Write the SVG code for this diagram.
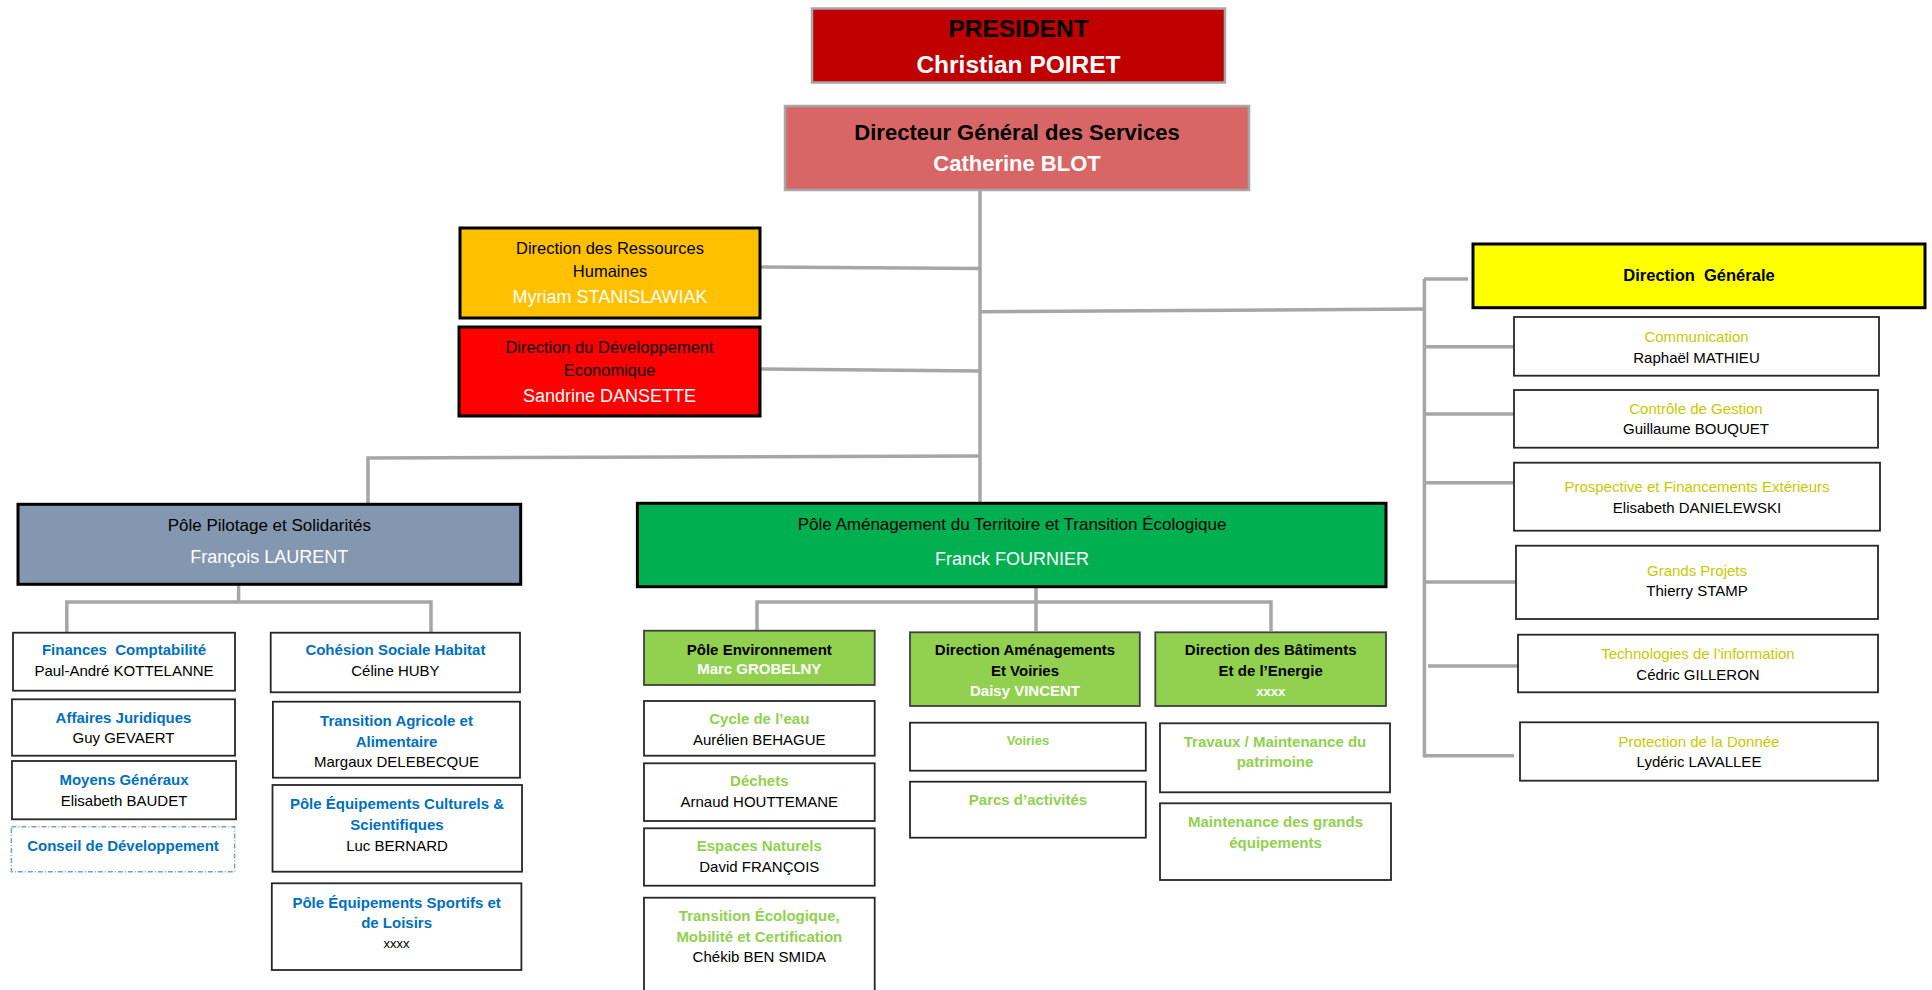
<svg xmlns="http://www.w3.org/2000/svg" width="1932" height="990" viewBox="0 0 1932 990">
<style>
text{font-family:"Liberation Sans",Arial,sans-serif;text-anchor:middle;font-size:15px;fill:#000;white-space:pre}
.b{font-weight:bold}
.w{fill:#fff}
.blue{fill:#0070C0;font-weight:bold}
.gr{fill:#92D050;font-weight:bold}
.yl{fill:#C9C900}
.top{stroke:#A6A6A6;stroke-width:2.5}
.main{stroke:#000;stroke-width:3}
.sub{fill:#fff;stroke:#262626;stroke-width:1.8}
.gsub{fill:#92D050;stroke:#404040;stroke-width:1.8}
.dash{fill:#fff;stroke:#7F9CC4;stroke-width:1.5;stroke-dasharray:5 2 1 2}
#connectors path{fill:none;stroke:#A6A6A6;stroke-width:3.5}
</style>
<rect width="1932" height="990" fill="#fff"/>
<g id="connectors">
<path d="M980 190 V503"/>
<path d="M760 267 L980 268.5"/>
<path d="M760 369 L980 371"/>
<path d="M980 311.7 L1424 309"/>
<path d="M1424.4 279 V757.5"/>
<path d="M1424 279 H1468"/>
<path d="M1424 346.7 H1514"/>
<path d="M1424 414 H1514"/>
<path d="M1424 482.7 H1514"/>
<path d="M1424 582 H1516"/>
<path d="M1428 666 H1518"/>
<path d="M1424 755.7 H1514"/>
<path d="M368 503 V458 L980 456"/>
<path d="M238.6 584 V602"/>
<path d="M66.8 632.7 V602 H431 V632.7"/>
<path d="M1036 587 V602"/>
<path d="M757 631 V602 H1271 V631"/>
<path d="M1036 602 V631"/>
</g>
<g id="president">
<rect x="812" y="8.5" width="413" height="74" fill="#C00000" class="top"/>
<text x="1018.5" y="37" class="b" style="font-size:24.5px">PRESIDENT</text>
<text x="1018.5" y="72.5" class="b w" style="font-size:24.5px">Christian POIRET</text>
</g>
<g id="dgs">
<rect x="785" y="106" width="464" height="84" fill="#D96666" class="top"/>
<text x="1017" y="140" class="b" style="font-size:22px">Directeur Général des Services</text>
<text x="1017" y="170.5" class="b w" style="font-size:22px">Catherine BLOT</text>
</g>
<g id="drh">
<rect x="460" y="228" width="300" height="90" fill="#FFC000" class="main"/>
<text x="610" y="254" style="font-size:16.5px">Direction des Ressources</text>
<text x="610" y="277" style="font-size:16.5px">Humaines</text>
<text x="610" y="303" class="w" style="font-size:18px">Myriam STANISLAWIAK</text>
</g>
<g id="dde">
<rect x="459" y="327" width="301" height="89" fill="#FF0000" class="main"/>
<text x="609.5" y="353" style="font-size:16.5px">Direction du Développement</text>
<text x="609.5" y="375.7" style="font-size:16.5px">Economique</text>
<text x="609.5" y="401.7" class="w" style="font-size:18px">Sandrine DANSETTE</text>
</g>
<g id="dg">
<rect x="1473" y="244" width="452" height="63.7" fill="#FFFF00" class="main"/>
<text x="1699" y="281" class="b" style="font-size:16.5px">Direction  Générale</text>
</g>
<g id="communication">
<rect x="1514" y="317" width="365" height="58.7" class="sub"/>
<text x="1696.5" y="341.7" class="yl">Communication</text>
<text x="1696.5" y="362.7">Raphaël MATHIEU</text>
</g>
<g id="controle">
<rect x="1514" y="390" width="364" height="57.7" class="sub"/>
<text x="1696" y="414.3" class="yl">Contrôle de Gestion</text>
<text x="1696" y="434.3">Guillaume BOUQUET</text>
</g>
<g id="prospective">
<rect x="1514" y="462.7" width="366" height="68" class="sub"/>
<text x="1697" y="492.3" class="yl">Prospective et Financements Extérieurs</text>
<text x="1697" y="512.7">Elisabeth DANIELEWSKI</text>
</g>
<g id="grands-projets">
<rect x="1516" y="545.7" width="362" height="73.3" class="sub"/>
<text x="1697" y="575.7" class="yl">Grands Projets</text>
<text x="1697" y="596">Thierry STAMP</text>
</g>
<g id="technologies">
<rect x="1518" y="634.7" width="360" height="57.6" class="sub"/>
<text x="1698" y="659" class="yl">Technologies de l’information</text>
<text x="1698" y="680">Cédric GILLERON</text>
</g>
<g id="protection">
<rect x="1520" y="722.3" width="358" height="58.4" class="sub"/>
<text x="1699" y="747.3" class="yl">Protection de la Donnée</text>
<text x="1699" y="767.3">Lydéric LAVALLEE</text>
</g>
<g id="pole-pilotage">
<rect x="18" y="504.3" width="502.7" height="80" fill="#8497B0" class="main"/>
<text x="269.3" y="530.7" style="font-size:17px">Pôle Pilotage et Solidarités</text>
<text x="269.3" y="562.7" class="w" style="font-size:18px">François LAURENT</text>
</g>
<g id="finances">
<rect x="13" y="632.7" width="222" height="58" class="sub"/>
<text x="124" y="655" class="blue">Finances  Comptabilité</text>
<text x="124" y="676">Paul-André KOTTELANNE</text>
</g>
<g id="affaires-juridiques">
<rect x="12" y="699.3" width="223" height="56.4" class="sub"/>
<text x="123.5" y="722.7" class="blue">Affaires Juridiques</text>
<text x="123.5" y="743.3">Guy GEVAERT</text>
</g>
<g id="moyens-generaux">
<rect x="12" y="761" width="224" height="58.3" class="sub"/>
<text x="124" y="785" class="blue">Moyens Généraux</text>
<text x="124" y="805.7">Elisabeth BAUDET</text>
</g>
<g id="conseil-developpement">
<rect x="11.4" y="826.7" width="223.2" height="45" class="dash"/>
<text x="123" y="850.7" class="blue">Conseil de Développement</text>
</g>
<g id="cohesion-sociale">
<rect x="270.7" y="632.7" width="249.3" height="59.6" class="sub"/>
<text x="395.4" y="655" class="blue">Cohésion Sociale Habitat</text>
<text x="395.4" y="676">Céline HUBY</text>
</g>
<g id="transition-agricole">
<rect x="272.9" y="701.7" width="247.1" height="76" class="sub"/>
<text x="396.5" y="725.7" class="blue">Transition Agricole et</text>
<text x="396.5" y="746.7" class="blue">Alimentaire</text>
<text x="396.5" y="766.7">Margaux DELEBECQUE</text>
</g>
<g id="equipements-culturels">
<rect x="272.5" y="785" width="249.5" height="86.7" class="sub"/>
<text x="397" y="809" class="blue">Pôle Équipements Culturels &amp;</text>
<text x="397" y="830" class="blue">Scientifiques</text>
<text x="397" y="850.7">Luc BERNARD</text>
</g>
<g id="equipements-sportifs">
<rect x="271.8" y="883.3" width="249.6" height="86.7" class="sub"/>
<text x="396.6" y="907.7" class="blue">Pôle Équipements Sportifs et</text>
<text x="396.6" y="927.7" class="blue">de Loisirs</text>
<text x="396.6" y="948.3" style="font-size:13px">xxxx</text>
</g>
<g id="pole-amenagement">
<rect x="637.4" y="503.3" width="748.6" height="83.4" fill="#00B050" class="main"/>
<text x="1012" y="530" style="font-size:17px">Pôle Aménagement du Territoire et Transition Écologique</text>
<text x="1012" y="565" class="w" style="font-size:18px">Franck FOURNIER</text>
</g>
<g id="pole-environnement">
<rect x="644" y="630.7" width="230.7" height="54.3" class="gsub"/>
<text x="759.3" y="655" class="b">Pôle Environnement</text>
<text x="759.3" y="674.3" class="b w">Marc GROBELNY</text>
</g>
<g id="direction-amenagements">
<rect x="910" y="632.3" width="229.8" height="73.7" class="gsub"/>
<text x="1025" y="655" class="b">Direction Aménagements</text>
<text x="1025" y="675.7" class="b">Et Voiries</text>
<text x="1025" y="696" class="b w">Daisy VINCENT</text>
</g>
<g id="direction-batiments">
<rect x="1155.3" y="632.3" width="230.7" height="73.7" class="gsub"/>
<text x="1270.7" y="655" class="b">Direction des Bâtiments</text>
<text x="1270.7" y="675.7" class="b">Et de l’Energie</text>
<text x="1270.7" y="695.5" class="b w" style="font-size:13px">xxxx</text>
</g>
<g id="cycle-eau">
<rect x="644" y="701" width="230.7" height="54.7" class="sub"/>
<text x="759.3" y="724.3" class="gr">Cycle de l’eau</text>
<text x="759.3" y="745.3">Aurélien BEHAGUE</text>
</g>
<g id="dechets">
<rect x="644" y="763.3" width="230.7" height="57.7" class="sub"/>
<text x="759.3" y="786" class="gr">Déchets</text>
<text x="759.3" y="807.3">Arnaud HOUTTEMANE</text>
</g>
<g id="espaces-naturels">
<rect x="644" y="828.3" width="230.7" height="57.4" class="sub"/>
<text x="759.3" y="851" class="gr">Espaces Naturels</text>
<text x="759.3" y="872.3">David FRANÇOIS</text>
</g>
<g id="transition-ecologique">
<rect x="644" y="897.7" width="230.7" height="110" class="sub"/>
<text x="759.3" y="920.7" class="gr">Transition Écologique,</text>
<text x="759.3" y="941.7" class="gr">Mobilité et Certification</text>
<text x="759.3" y="961.7">Chékib BEN SMIDA</text>
</g>
<g id="voiries">
<rect x="910" y="722.7" width="235.8" height="48" class="sub"/>
<text x="1028" y="745" class="gr" style="font-size:13px">Voiries</text>
</g>
<g id="parcs-activites">
<rect x="910" y="781.7" width="235.8" height="56" class="sub"/>
<text x="1028" y="805" class="gr">Parcs d’activités</text>
</g>
<g id="travaux-maintenance">
<rect x="1160" y="723.3" width="230" height="69" class="sub"/>
<text x="1275" y="746.7" class="gr">Travaux / Maintenance du</text>
<text x="1275" y="767.3" class="gr">patrimoine</text>
</g>
<g id="maintenance-equipements">
<rect x="1160" y="803.3" width="231" height="76.7" class="sub"/>
<text x="1275.5" y="826.7" class="gr">Maintenance des grands</text>
<text x="1275.5" y="847.7" class="gr">équipements</text>
</g>
</svg>
